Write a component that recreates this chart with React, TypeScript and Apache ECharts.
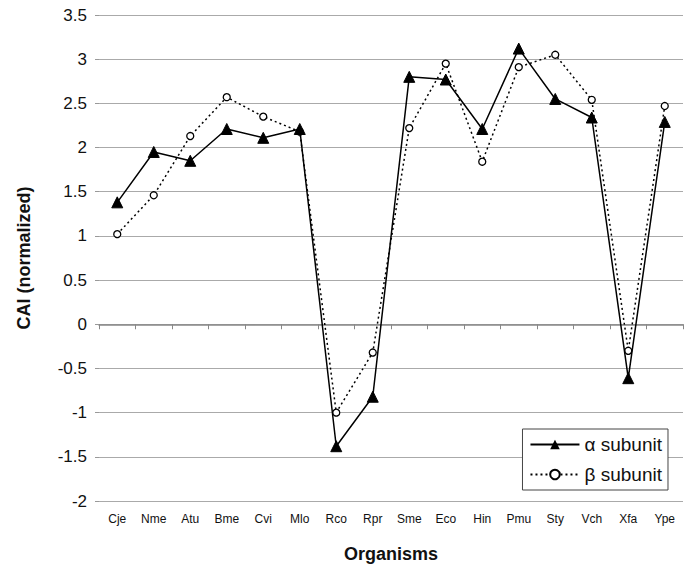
import React, { useEffect, useRef } from "react";
import * as echarts from "echarts";

const categories = ["Cje", "Nme", "Atu", "Bme", "Cvi", "Mlo", "Rco", "Rpr", "Sme", "Eco", "Hin", "Pmu", "Sty", "Vch", "Xfa", "Ype"];
const alphaValues = [1.38, 1.95, 1.85, 2.21, 2.11, 2.21, -1.38, -0.82, 2.80, 2.77, 2.21, 3.12, 2.55, 2.34, -0.61, 2.29];
const betaValues = [1.02, 1.46, 2.13, 2.57, 2.35, 2.18, -1.0, -0.32, 2.22, 2.95, 1.84, 2.91, 3.05, 2.54, -0.30, 2.47];

const FONT = "Liberation Sans, Arial, sans-serif";

export default function App() {
  const ref = useRef<HTMLDivElement>(null);
  useEffect(() => {
    if (!ref.current) return;
    const chart = echarts.init(ref.current, null, { renderer: "svg" });
    chart.setOption({
      animation: false,
      backgroundColor: "#ffffff",
      textStyle: { fontFamily: FONT },
      grid: { left: 99, right: 4, top: 15, bottom: 66 },
      legend: {
        right: 19,
        bottom: 78,
        orient: "vertical",
        itemWidth: 49,
        itemHeight: 12,
        itemGap: 11,
        padding: [6, 6, 6, 7],
        borderColor: "#444",
        borderWidth: 1,
        backgroundColor: "#fff",
        textStyle: { fontFamily: FONT, fontSize: 19, color: "#111" },
        data: ["α subunit", "β subunit"],
      },
      xAxis: {
        type: "category",
        data: categories,
        boundaryGap: true,
        axisLine: { show: true, lineStyle: { color: "#888", width: 1.5 } },
        axisTick: { show: true, alignWithLabel: false, length: 5, lineStyle: { color: "#888" } },
        axisLabel: { fontFamily: FONT, fontSize: 12, color: "#111", margin: 12 },
        name: "Organisms",
        nameLocation: "middle",
        nameGap: 44,
        nameTextStyle: { fontFamily: FONT, fontSize: 18, fontWeight: "bold", color: "#111" },
      },
      yAxis: {
        type: "value",
        min: -2,
        max: 3.5,
        interval: 0.5,
        axisLine: { show: false },
        axisTick: { show: true, length: 4, lineStyle: { color: "#999" } },
        splitLine: { show: true, lineStyle: { color: "#aaa", width: 1.2 } },
        axisLabel: { fontFamily: FONT, fontSize: 17, color: "#111", margin: 12 },
        name: "CAI (normalized)",
        nameLocation: "middle",
        nameGap: 66,
        nameRotate: 90,
        nameTextStyle: { fontFamily: FONT, fontSize: 18, fontWeight: "bold", color: "#111" },
      },
      series: [
        {
          name: "α subunit",
          type: "line",
          data: alphaValues,
          symbol: "triangle",
          symbolSize: 11,
          lineStyle: { color: "#000", width: 1.5, type: "solid" },
          itemStyle: { color: "#000", borderColor: "#000" },
          z: 3,
        },
        {
          name: "β subunit",
          type: "line",
          data: betaValues,
          symbol: "circle",
          symbolSize: 7,
          lineStyle: { color: "#000", width: 1.5, type: [2, 3] },
          itemStyle: { color: "#fff", borderColor: "#000", borderWidth: 1.3 },
          z: 2,
        },
      ],
    });
    return () => chart.dispose();
  }, []);
  return <div ref={ref} style={{ width: 687, height: 568, position: "absolute", left: 0, top: 0 }} />;
}
